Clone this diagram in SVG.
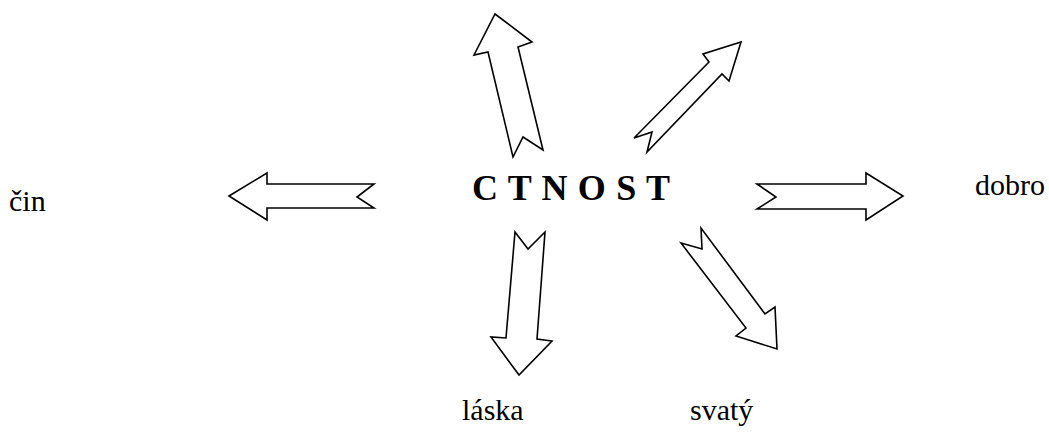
<svg xmlns="http://www.w3.org/2000/svg" width="1049" height="432" viewBox="0 0 1049 432">
<style>
.arr{fill:#fff;stroke:#000;stroke-width:1.6;stroke-linejoin:miter}
.lbl{font-family:"Liberation Serif","Times New Roman",serif;font-size:30px;fill:#000}
.ttl{font-family:"Liberation Serif","Times New Roman",serif;font-size:36px;font-weight:bold;fill:#000}
</style>
<rect width="1049" height="432" fill="#fff"/>
<g id="connectors">
<polygon class="arr" points="495,14 532,42 518,47 543,150 523,137 513,157 488,52 474,55"/>
<polygon class="arr" points="741,42 729,81 722,74 647,152 652,132 634,138 709,62 703,54"/>
<polygon class="arr" points="229,196 267,173 267,184 374,184 357,197 374,208 267,208 267,220"/>
<polygon class="arr" points="757,184 776,197 757,209 866,209 866,220 903,196 866,173 866,184"/>
<polygon class="arr" points="515,232 528,249 545,232 537,339 552,341 519,375 491,337 506,338"/>
<polygon class="arr" points="681,243 702,249 701,228 765,314 775,307 777,349 736,336 746,328"/>
</g>
<g id="ctnost"><text class="ttl" x="472" y="200" textLength="198" lengthAdjust="spacing">C T N O S T</text></g>
<g id="cin"><text class="lbl" x="9" y="211">čin</text></g>
<g id="dobro"><text class="lbl" x="975" y="195">dobro</text></g>
<g id="laska"><text class="lbl" x="462" y="420">láska</text></g>
<g id="svaty"><text class="lbl" x="690" y="420">svatý</text></g>
</svg>
